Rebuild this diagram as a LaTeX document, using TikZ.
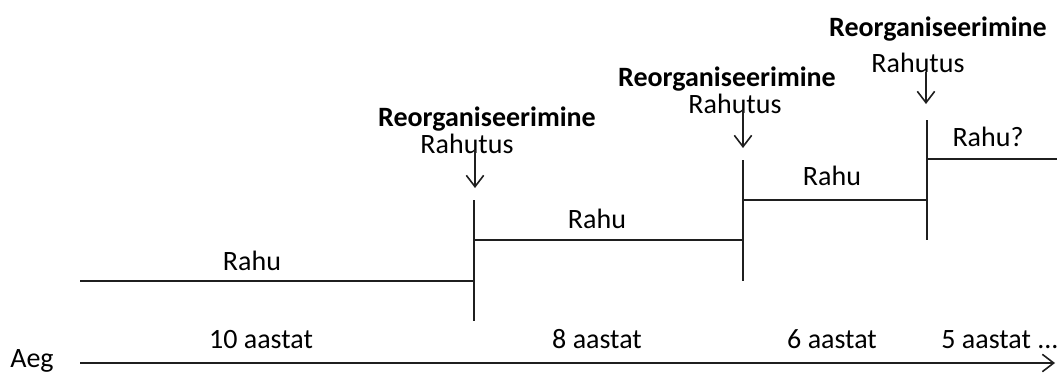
\documentclass[tikz,border=0pt]{standalone}
\usepackage{fontspec}
\setmainfont{Carlito}
\usetikzlibrary{arrows.meta}
\begin{document}
\begin{tikzpicture}[x=0.75pt,y=-0.75pt,
  lbl/.style={inner sep=0pt,anchor=base,font=\fontsize{21}{25}\selectfont},
  head/.style={lbl,font=\fontsize{21}{25}\selectfont\bfseries},
  stepline/.style={line width=1.5pt,color=black!88},
  hit/.style={line width=1.2pt,color=black!88,-{Straight Barb[length=8.5pt,width=13pt,line width=1.2pt]}}]
\useasboundingbox (0,0) rectangle (1057,372);

% time axis
\node[lbl] (aeg) at (32,367) {Aeg};
\coordinate (ax0) at (80,363);
\coordinate (ax1) at (1055,363);
\draw[hit] (ax0) -- (ax1);

% periods of peace: horizontal levels
\coordinate (p1a) at (80,281);  \coordinate (p1b) at (474,281);
\coordinate (p2a) at (474,240); \coordinate (p2b) at (743,240);
\coordinate (p3a) at (743,200); \coordinate (p3b) at (927,200);
\coordinate (p4a) at (927,159); \coordinate (p4b) at (1057,159);
\draw[stepline] (p1a) -- (p1b);
\draw[stepline] (p2a) -- (p2b);
\draw[stepline] (p3a) -- (p3b);
\draw[stepline] (p4a) -- (p4b);

% reorganisation breaks
\coordinate (v1a) at (474,200); \coordinate (v1b) at (474,321);
\coordinate (v2a) at (743,160); \coordinate (v2b) at (743,281);
\coordinate (v3a) at (927,120); \coordinate (v3b) at (927,240);
\draw[stepline] (v1a) -- (v1b);
\draw[stepline] (v2a) -- (v2b);
\draw[stepline] (v3a) -- (v3b);

% labels above the levels
\node[lbl] (r1) at (252,270) {Rahu};
\node[lbl] (r2) at (597,228) {Rahu};
\node[lbl] (r3) at (832,185) {Rahu};
\node[lbl] (r4) at (988,146) {Rahu?};

% durations
\node[lbl] (d1) at (261,348) {10 aastat};
\node[lbl] (d2) at (597,348) {8 aastat};
\node[lbl] (d3) at (832,348) {6 aastat};
\node[lbl] (d4) at (1000,348) {5 aastat ...};

% reorganisation headings and unrest
\node[head] (h1) at (487,126) {Reorganiseerimine};
\node[lbl]  (u1) at (467,153) {Rahutus};
\node[head] (h2) at (727,86)  {Reorganiseerimine};
\node[lbl]  (u2) at (735,113) {Rahutus};
\node[head] (h3) at (938,36)  {Reorganiseerimine};
\node[lbl]  (u3) at (918,72)  {Rahutus};

\coordinate (a1) at (475,150); \coordinate (a1e) at (475,188);
\coordinate (a2) at (743,110); \coordinate (a2e) at (743,148);
\coordinate (a3) at (926,72);  \coordinate (a3e) at (926,104);
\draw[hit] (a1) -- (a1e);
\draw[hit] (a2) -- (a2e);
\draw[hit] (a3) -- (a3e);
\end{tikzpicture}
\end{document}
